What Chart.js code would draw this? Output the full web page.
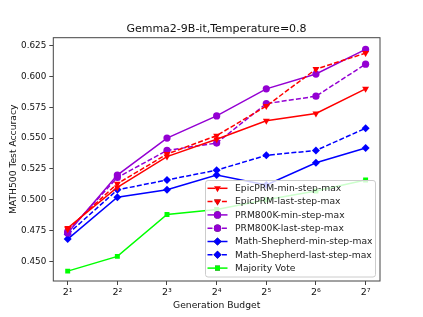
<!DOCTYPE html>
<html>
<head>
<meta charset="utf-8">
<script src="https://cdn.jsdelivr.net/npm/chart.js@4/dist/chart.umd.min.js"></script>
<style>
  html, body { margin: 0; padding: 0; background: #fff; }
  #wrap { width: 423px; height: 317px; }
</style>
</head>
<body>
<div id="wrap"><canvas id="lineChart" width="423" height="317"></canvas></div>
<script>
// generation budget exponents (2^1 .. 2^7)
var budgets = [1, 2, 3, 4, 5, 6, 7]
var budgetLabels = ['2\u00b9', '2\u00b2', '2\u00b3', '2\u2074', '2\u2075', '2\u2076', '2\u2077']
var yTicks = [0.450, 0.475, 0.500, 0.525, 0.550, 0.575, 0.600, 0.625]

var epicMin = [0.477, 0.510, 0.535, 0.549, 0.564, 0.570, 0.590]
var epicLast = [0.476, 0.513, 0.537, 0.552, 0.576, 0.606, 0.619]
var prmMin = [0.473, 0.520, 0.550, 0.568, 0.590, 0.602, 0.622]
var prmLast = [0.474, 0.518, 0.540, 0.546, 0.578, 0.584, 0.610]
var msMin = [0.468, 0.502, 0.508, 0.520, 0.512, 0.530, 0.542]
var msLast = [0.472, 0.508, 0.516, 0.524, 0.536, 0.540, 0.558]
var majority = [0.442, 0.454, 0.488, 0.492, 0.500, 0.507, 0.516]

var FONT = 'DejaVu Sans'

function toPoints(vals) {
    return vals.map(function (v, i) { return {x: budgets[i], y: v} })
}

function makeSet(label, vals, color, style, dashed, rot) {
    var r = 4
    if (style === 'rect') r = 3.5
    if (style === 'circle') r = 3.6
    return {
        label: label,
        data: toPoints(vals),
        borderColor: color,
        backgroundColor: color,
        borderWidth: 1.5,
        borderDash: dashed ? [5, 2.2] : [],
        pointStyle: style,
        pointRotation: rot || 0,
        pointRadius: r,
        pointBorderWidth: 0,
        pointBackgroundColor: color,
        tension: 0
    }
}

var datasets = [
    makeSet('EpicPRM-min-step-max', epicMin, '#ff0000', 'triangle', false, 180),
    makeSet('EpicPRM-last-step-max', epicLast, '#ff0000', 'triangle', true, 180),
    makeSet('PRM800K-min-step-max', prmMin, '#9400d3', 'circle', false),
    makeSet('PRM800K-last-step-max', prmLast, '#9400d3', 'circle', true),
    makeSet('Math-Shepherd-min-step-max', msMin, '#0000ff', 'rectRot', false),
    makeSet('Math-Shepherd-last-step-max', msLast, '#0000ff', 'rectRot', true),
    makeSet('Majority Vote', majority, '#00ff00', 'rect', false)
]

// frame around the axes + legend inside the plot (lower right)
var framePlugin = {
    id: 'frame',
    afterDatasetsDraw: function (chart) {
        var ctx = chart.ctx
        var a = chart.chartArea
        ctx.save()
        ctx.strokeStyle = '#444'
        ctx.lineWidth = 1
        ctx.strokeRect(a.left, a.top, a.right - a.left, a.bottom - a.top)

        // legend box
        var bx = 205.5, by = 180.5, bw = 170, bh = 96.5
        ctx.beginPath()
        if (ctx.roundRect) ctx.roundRect(bx, by, bw, bh, 2.5)
        else ctx.rect(bx, by, bw, bh)
        ctx.fillStyle = 'rgba(255,255,255,0.8)'
        ctx.fill()
        ctx.strokeStyle = '#cccccc'
        ctx.lineWidth = 1
        ctx.stroke()

        ctx.font = '9.2px "' + FONT + '"'
        ctx.textBaseline = 'middle'
        ctx.textAlign = 'left'
        chart.data.datasets.forEach(function (ds, i) {
            var y = 188.3 + i * 13.3
            ctx.beginPath()
            ctx.setLineDash(ds.borderDash)
            ctx.strokeStyle = ds.borderColor
            ctx.lineWidth = ds.borderWidth
            ctx.moveTo(207.5, y)
            ctx.lineTo(227.5, y)
            ctx.stroke()
            ctx.setLineDash([])
            Chart.helpers.drawPoint(ctx, {
                pointStyle: ds.pointStyle,
                rotation: ds.pointRotation,
                radius: ds.pointRadius,
                borderWidth: 0
            }, 217.5, y)
            ctx.fillStyle = ds.borderColor
            ctx.fill()
            ctx.fillStyle = '#222'
            ctx.fillText(ds.label, 235, y + 0.5)
        })
        ctx.restore()
    }
}

var ctx = document.getElementById('lineChart').getContext('2d')
var lineChart = new Chart(ctx, {
    type: 'line',
    data: {datasets: datasets},
    plugins: [framePlugin],
    options: {
        responsive: false,
        animation: false,
        layout: {padding: {left: 10, right: 0, top: 0, bottom: 0}},
        plugins: {
            legend: {display: false},
            tooltip: {enabled: false},
            title: {
                display: true,
                text: 'Gemma2-9B-it,Temperature=0.8',
                color: '#111',
                font: {family: FONT, size: 11, weight: 'normal'},
                padding: {top: 22.5, bottom: 2}
            }
        },
        scales: {
            x: {
                type: 'linear',
                min: 0.71,
                max: 7.29,
                afterBuildTicks: function (scale) {
                    scale.ticks = budgets.map(function (b) { return {value: b} })
                },
                afterFit: function (scale) { scale.height = 36 },
                ticks: {
                    color: '#111',
                    font: {family: FONT, size: 9.5},
                    padding: 2,
                    maxRotation: 0,
                    callback: function (v) { return budgetLabels[budgets.indexOf(v)] }
                },
                grid: {drawOnChartArea: false, tickLength: 4, color: '#444', tickColor: '#444'},
                border: {display: false},
                title: {
                    display: true,
                    text: 'Generation Budget',
                    color: '#111',
                    font: {family: FONT, size: 9.2},
                    padding: {top: 1, bottom: 6}
                }
            },
            y: {
                type: 'linear',
                min: 0.434,
                max: 0.6315,
                afterBuildTicks: function (scale) {
                    scale.ticks = yTicks.map(function (t) { return {value: t} })
                },
                afterFit: function (scale) { scale.width = 43.3 },
                ticks: {
                    color: '#111',
                    font: {family: FONT, size: 8.8},
                    padding: 3,
                    callback: function (v) { return v.toFixed(3) }
                },
                grid: {drawOnChartArea: false, tickLength: 4, color: '#444', tickColor: '#444'},
                border: {display: false},
                title: {
                    display: true,
                    text: 'MATH500 Test Accuracy',
                    color: '#111',
                    font: {family: FONT, size: 9.2},
                    padding: {top: -2, bottom: 4}
                }
            },
            // empty right-hand spacer so the plot ends where the reference does
            y2: {
                position: 'right',
                display: true,
                afterFit: function (scale) { scale.width = 43 },
                ticks: {display: false},
                grid: {display: false},
                border: {display: false}
            }
        }
    }
})
</script>
</body>
</html>
